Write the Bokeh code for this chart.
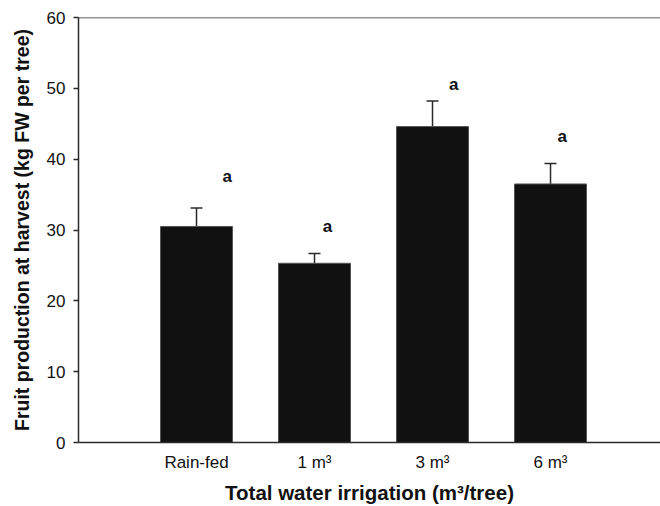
from bokeh.plotting import figure
from bokeh.models import ColumnDataSource, Whisker, TeeHead, Span, FixedTicker, Range1d
from bokeh.core.properties import value
from bokeh.embed import file_html
from bokeh.resources import INLINE

# ---- data ----
categories = ["Rain-fed", "1 m³", "3 m³", "6 m³"]
production = [30.5, 25.3, 44.6, 36.5]      # bar heights (kg FW per tree)
error_top = [33.1, 26.7, 48.2, 39.4]       # upper end of error bars
letters = ["a", "a", "a", "a"]             # significance letters
letter_x = [1.26, 2.11, 3.18, 4.10]        # letter positions (category units)
letter_y = [37.5, 30.5, 50.6, 43.2]        # letter positions (data units)
y_ticks = [0, 10, 20, 30, 40, 50, 60]

x_pos = list(range(1, len(categories) + 1))

FONT = "Liberation Sans"
INK = "#111111"
LINE = "#2a2a2a"

src = ColumnDataSource(dict(x=x_pos, val=production, err=error_top))
lsrc = ColumnDataSource(dict(x=letter_x, y=letter_y, t=letters))

p = figure(width=660, height=506,
           x_range=Range1d(0, 4.932), y_range=Range1d(0, 60),
           output_backend="svg", toolbar_location=None,
           min_border_left=78, min_border_right=0,
           min_border_top=17, min_border_bottom=64)

p.outline_line_color = None
p.xgrid.visible = False
p.ygrid.visible = False
p.background_fill_color = "white"
p.border_fill_color = "white"

p.vbar(x="x", top="val", width=0.61, source=src,
       fill_color=INK, line_color="#555555", line_width=1)

w = Whisker(base="x", lower="val", upper="err", source=src,
            line_color=LINE, line_width=1.5,
            upper_head=TeeHead(size=12, line_color=LINE, line_width=1.5),
            lower_head=None)
p.add_layout(w)

p.text(x="x", y="y", text="t", source=lsrc,
       text_font=value(FONT), text_font_style="bold",
       text_font_size="17px", text_color=INK,
       text_align="center", text_baseline="middle")

# top border line of the frame
p.add_layout(Span(location=60, dimension="width", line_color=LINE, line_width=1.5))

# x axis
xa = p.xaxis[0]
xa.ticker = FixedTicker(ticks=x_pos)
xa.major_label_overrides = {x: c for x, c in zip(x_pos, categories)}
xa.major_tick_out = 0
xa.major_tick_in = 0
xa.minor_tick_line_color = None
xa.axis_line_color = LINE
xa.axis_line_width = 1.5
xa.major_label_standoff = 10
xa.major_label_text_font = FONT
xa.major_label_text_font_size = "17px"
xa.major_label_text_color = INK
xa.axis_label = "Total water irrigation (m³/tree)"
xa.axis_label_text_font = FONT
xa.axis_label_text_font_style = "bold"
xa.axis_label_text_font_size = "20.5px"
xa.axis_label_text_color = INK
xa.axis_label_standoff = 6

# y axis
ya = p.yaxis[0]
ya.ticker = FixedTicker(ticks=y_ticks)
ya.major_tick_out = 5
ya.major_tick_in = 0
ya.major_tick_line_color = LINE
ya.major_tick_line_width = 1.5
ya.minor_tick_line_color = None
ya.axis_line_color = LINE
ya.axis_line_width = 1.5
ya.major_label_standoff = 8
ya.major_label_text_font = FONT
ya.major_label_text_font_size = "17px"
ya.major_label_text_color = INK
ya.axis_label = "Fruit production at harvest (kg FW per tree)"
ya.axis_label_text_font = FONT
ya.axis_label_text_font_style = "bold"
ya.axis_label_text_font_size = "19.5px"
ya.axis_label_text_color = INK
ya.axis_label_standoff = 11

open("out.html", "w").write(file_html(p, INLINE))
